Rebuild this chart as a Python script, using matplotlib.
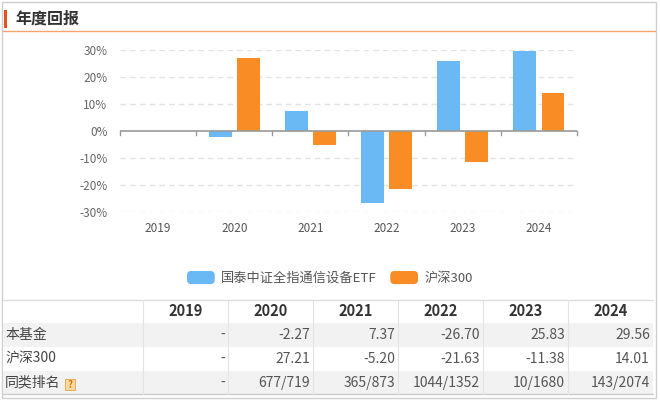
import numpy as np
import matplotlib
matplotlib.use("Agg")
import matplotlib.pyplot as plt
from matplotlib.patches import Rectangle, Patch, FancyBboxPatch
from matplotlib.legend_handler import HandlerPatch

plt.rcParams['font.family'] = ['Noto Sans CJK SC', 'DejaVu Sans']

# data
years = ['2019', '2020', '2021', '2022', '2023', '2024']
fund_name = '国泰中证全指通信设备ETF'
bench_name = '沪深300'
fund_ret = [np.nan, -2.27, 7.37, -26.70, 25.83, 29.56]
bench_ret = [np.nan, 27.21, -5.20, -21.63, -11.38, 14.01]
rank = ['-', '677/719', '365/873', '1044/1352', '10/1680', '143/2074']
row_names = ['本基金', '沪深300', '同类排名']
yticks = [-30, -20, -10, 0, 10, 20, 30]

blue = '#6ab8f4'
orange = '#f98c25'


class RoundHandler(HandlerPatch):
    # rounded legend swatches
    def create_artists(self, legend, orig_handle, xdescent, ydescent,
                       width, height, fontsize, trans):
        p = FancyBboxPatch((-xdescent, -ydescent), width, height,
                           boxstyle='round,pad=0,rounding_size=3',
                           fc=orig_handle.get_facecolor(), ec='none', transform=trans)
        return [p]


W, H = 660, 401
fig = plt.figure(figsize=(W / 100, H / 100), dpi=100)

# overlay in pixel coordinates for frame, title and table
bg = fig.add_axes([0, 0, 1, 1])
bg.set_xlim(0, W)
bg.set_ylim(H, 0)
bg.axis('off')
bg.add_patch(Rectangle((2, 2), 654, 396, fill=False, ec='#cfcfcf', lw=1))
bg.add_patch(Rectangle((4, 10), 3, 18, color='#e8501e', lw=0))
bg.plot([3, 655], [31, 31], color='#f5a470', lw=1)
bg.text(15, 19, '年度回报', fontsize=11.5, fontweight='bold', color='#333333',
        ha='left', va='center')

# bar chart
ax = fig.add_axes([120 / W, 1 - 212 / H, 457 / W, 162 / H])
x = np.arange(len(years))
ax.bar(x - 0.185, fund_ret, width=0.3, color=blue, zorder=3)
ax.bar(x + 0.185, bench_ret, width=0.3, color=orange, zorder=3)
ax.set_xlim(-0.5, len(years) - 0.5)
ax.set_ylim(-30, 30)
for s in ax.spines.values():
    s.set_visible(False)
for v in yticks:
    if v != 0:
        ax.axhline(v, color='#e2e2e2', lw=1, ls=(0, (4, 3)), zorder=1)
ax.axhline(0, color='#9a9a9a', lw=1.2, zorder=4)
ax.set_yticks(yticks)
ax.set_yticklabels([f'{v}%' for v in yticks], color='#666666', fontsize=8.5)
ax.tick_params(axis='y', length=0, pad=9)
ax.set_xticks([])
for b in np.arange(-0.5, len(years), 1.0):
    ax.plot([b, b], [0, -1.6], color='#9a9a9a', lw=1, zorder=4, clip_on=False)
for i, yr in enumerate(years):
    ax.annotate(yr, (i, 0), xycoords=('data', 'axes fraction'), xytext=(0, -16),
                textcoords='offset pixels', ha='center', va='center',
                fontsize=8.5, color='#555555')

# legend
handles = [Patch(facecolor=blue, edgecolor='none', label=fund_name),
           Patch(facecolor=orange, edgecolor='none', label=bench_name)]
fig.legend(handles=handles, loc='center', bbox_to_anchor=(330 / W, 1 - 278 / H),
           ncol=2, frameon=False, fontsize=9.5, handlelength=2.1, handleheight=1.15,
           handletextpad=0.5, columnspacing=1.0, labelcolor='#555555',
           handler_map={Patch: RoundHandler()})

# table
cols = [3, 143, 228, 313, 398, 483, 568, 653]
rows = [300, 323, 347, 371, 394]
fills = ['white', '#f2f2f2', 'white', '#f2f2f2']
for r in range(4):
    bg.add_patch(Rectangle((cols[0], rows[r]), cols[-1] - cols[0], rows[r + 1] - rows[r],
                           color=fills[r], lw=0))
bg.plot([cols[0], cols[-1]], [rows[0], rows[0]], color='#dddddd', lw=1)
bg.plot([cols[0], cols[-1]], [rows[-1], rows[-1]], color='#cccccc', lw=1)
for c in cols[1:-1]:
    bg.plot([c, c], [rows[0], rows[-1]], color='#e3e3e3', lw=0.8)

for j, yr in enumerate(years):
    bg.text((cols[j + 1] + cols[j + 2]) / 2, (rows[0] + rows[1]) / 2, yr,
            ha='center', va='center', fontsize=10.5, fontweight='bold', color='#333333')

body = [
    ['-' if np.isnan(v) else f'{v:.2f}' for v in fund_ret],
    ['-' if np.isnan(v) else f'{v:.2f}' for v in bench_ret],
    rank,
]
for r, name in enumerate(row_names):
    yc = (rows[r + 1] + rows[r + 2]) / 2
    bg.text(5, yc, name, ha='left', va='center', fontsize=10, color='#444444')
    for j, val in enumerate(body[r]):
        bg.text(cols[j + 2] - 3, yc, val, ha='right', va='center', fontsize=10,
                color='#555555')

# question mark icon next to 同类排名
bg.add_patch(Rectangle((65, 379), 10, 11, fc='#fcd9a0', ec='#f0a040', lw=0.6))
bg.text(70, 384.5, '?', ha='center', va='center', fontsize=7, fontweight='bold',
        color='#e07000')

fig.savefig('out.png', dpi=100)
